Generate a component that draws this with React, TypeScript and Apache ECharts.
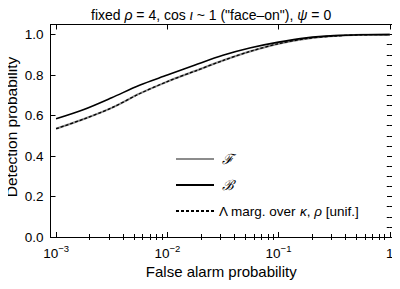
import React, { useEffect, useRef } from "react";
import * as echarts from "echarts";

// log10(false alarm probability)
const logFA = [-3, -2.75, -2.5, -2.25, -2, -1.75, -1.5, -1.25, -1, -0.75, -0.5, -0.25, 0];
const detF = [0.535, 0.583, 0.638, 0.708, 0.768, 0.82, 0.872, 0.918, 0.955, 0.98, 0.993, 0.999, 1.0];
const detB = [0.584, 0.63, 0.688, 0.75, 0.8, 0.85, 0.898, 0.935, 0.963, 0.984, 0.995, 0.999, 1.0];
const detL = [0.535, 0.583, 0.638, 0.708, 0.768, 0.82, 0.872, 0.918, 0.955, 0.98, 0.993, 0.999, 1.0];

const xMajor = [-3, -2, -1, 0];
const xMinor: number[] = [];
for (const d of [-3, -2, -1]) for (let k = 2; k <= 9; k++) xMinor.push(d + Math.log10(k));
const yMajor = [0, 0.2, 0.4, 0.6, 0.8, 1.0];
const yMinor = [0.05, 0.1, 0.15, 0.25, 0.3, 0.35, 0.45, 0.5, 0.55, 0.65, 0.7, 0.75, 0.85, 0.9, 0.95, 1.05];

const FONT = "Liberation Sans";
const Y_TITLE = "Detection probability";

export default function App() {
  const ref = useRef<HTMLDivElement>(null);
  useEffect(() => {
    const chart = echarts.init(ref.current!, null, { renderer: "svg" });
    const xBase = {
      type: "value",
      min: -3.05,
      max: 0.02,
      splitLine: { show: false },
      axisLine: { show: true, onZero: false, lineStyle: { color: "#000", width: 1 } },
    };
    const yBase = {
      type: "value",
      min: 0,
      max: 1.05,
      splitLine: { show: false },
      axisLine: { show: true, onZero: false, lineStyle: { color: "#000", width: 1 } },
    };
    const mk = (arr: number[]) => logFA.map((x, i) => [x, arr[i]]);
    chart.setOption({
      animation: false,
      title: {
        text: "{n|fixed }{i|ρ}{n| = 4, cos }{i|ι}{n| ~ 1 (\"face–on\"), }{i|ψ}{n| = 0}",
        left: 86,
        top: 3,
        textStyle: {
          fontWeight: "normal",
          rich: {
            n: { fontFamily: FONT, fontSize: 14, color: "#000", fontWeight: "normal" },
            i: { fontFamily: FONT, fontSize: 14, color: "#000", fontStyle: "italic", fontWeight: "normal" },
          },
        },
      },
      graphic: [
        {
          type: "text",
          x: 11,
          y: 127,
          rotation: Math.PI / 2,
          style: {
            text: Y_TITLE,
            fontFamily: FONT,
            fontSize: 15.5,
            fill: "#000",
            align: "center",
            verticalAlign: "middle",
          },
        },
      ],
      grid: { left: 50.5, right: 8, top: 24.5, bottom: 52, outerBoundsMode: "none", containLabel: false },
      legend: {
        orient: "vertical",
        left: 170,
        top: 147,
        itemWidth: 38,
        itemHeight: 14,
        itemGap: 12,
        itemStyle: { opacity: 0 },
        data: ["F", "B", "L"],
        formatter: (name: string) =>
          name === "F" ? "{s|ℱ}" : name === "B" ? "{s|ℬ}" : "{n|Λ marg. over }{i|κ}{n|, }{i|ρ}{n| [unif.]}",
        textStyle: {
          rich: {
            s: { fontFamily: "DejaVu Serif", fontSize: 14, color: "#000", fontStyle: "italic", padding: [0, 0, 0, 3] },
            n: { fontFamily: FONT, fontSize: 13.5, color: "#000" },
            i: { fontFamily: FONT, fontSize: 13.5, color: "#000", fontStyle: "italic" },
          },
        },
      },
      xAxis: [
        {
          ...xBase,
          position: "bottom",
          name: "False alarm probability",
          nameLocation: "middle",
          nameMoveOverlap: false,
          nameGap: 27,
          nameTextStyle: { fontFamily: FONT, fontSize: 15, color: "#000" },
          axisTick: { show: true, inside: true, length: 5, customValues: xMajor, lineStyle: { color: "#000" } },
          axisLabel: {
            show: true,
            customValues: xMajor,
            margin: 6,
            formatter: (v: number) => (Math.abs(v) < 1e-9 ? "{b|1}" : "{b|10}{s|" + "−" + Math.round(-v) + "}"),
            rich: {
              b: { fontFamily: FONT, fontSize: 13.5, color: "#000", verticalAlign: "bottom", lineHeight: 17 },
              s: { fontFamily: FONT, fontSize: 9.5, color: "#000", verticalAlign: "top", lineHeight: 17 },
            },
          },
        },
        {
          ...xBase,
          position: "bottom",
          axisLine: { show: false },
          axisTick: { show: true, inside: true, length: 3, customValues: xMinor, lineStyle: { color: "#000" } },
          axisLabel: { show: false },
        },
        {
          ...xBase,
          position: "top",
          axisTick: { show: true, inside: true, length: 5, customValues: xMajor, lineStyle: { color: "#000" } },
          axisLabel: { show: false },
        },
        {
          ...xBase,
          position: "top",
          axisLine: { show: false },
          axisTick: { show: true, inside: true, length: 3, customValues: xMinor, lineStyle: { color: "#000" } },
          axisLabel: { show: false },
        },
      ],
      yAxis: [
        {
          ...yBase,
          position: "left",
          axisTick: { show: true, inside: true, length: 5, customValues: yMajor, lineStyle: { color: "#000" } },
          axisLabel: {
            show: true,
            customValues: yMajor,
            margin: 7,
            formatter: (v: number) => v.toFixed(1),
            fontFamily: FONT,
            fontSize: 13.5,
            color: "#000",
          },
        },
        {
          ...yBase,
          position: "left",
          axisLine: { show: false },
          axisTick: { show: true, inside: true, length: 3, customValues: yMinor, lineStyle: { color: "#000" } },
          axisLabel: { show: false },
        },
        {
          ...yBase,
          position: "right",
          axisTick: { show: true, inside: true, length: 5, customValues: yMajor, lineStyle: { color: "#000" } },
          axisLabel: { show: false },
        },
        {
          ...yBase,
          position: "right",
          axisLine: { show: false },
          axisTick: { show: true, inside: true, length: 3, customValues: yMinor, lineStyle: { color: "#000" } },
          axisLabel: { show: false },
        },
      ],
      series: [
        {
          name: "F",
          type: "line",
          data: mk(detF),
          symbol: "none",
          smooth: 0.3,
          color: "#8c8c8c",
          lineStyle: { color: "#8c8c8c", width: 2 },
        },
        {
          name: "B",
          type: "line",
          data: mk(detB),
          symbol: "none",
          smooth: 0.3,
          color: "#000",
          lineStyle: { color: "#000", width: 1.6 },
        },
        {
          name: "L",
          type: "line",
          data: mk(detL),
          symbol: "none",
          smooth: 0.3,
          color: "#000",
          lineStyle: { color: "#000", width: 1.3, type: [3, 2] },
        },
      ],
    });
    return () => chart.dispose();
  }, []);
  return <div ref={ref} style={{ width: 400, height: 289, margin: -8 }} />;
}
